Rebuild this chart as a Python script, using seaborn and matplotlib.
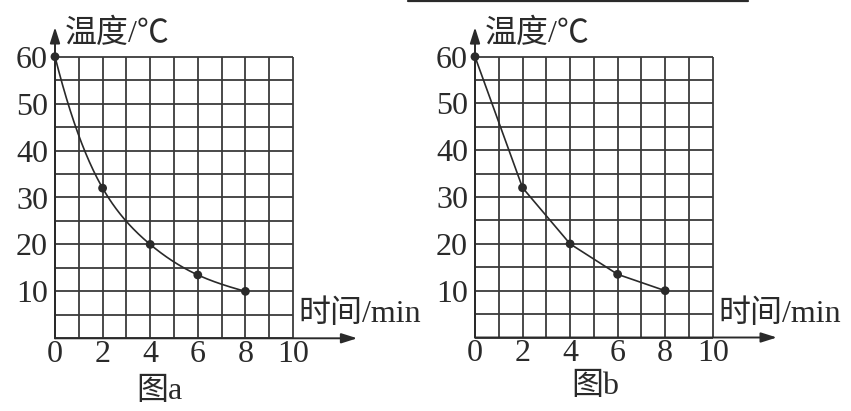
import numpy as np
import pandas as pd
import seaborn as sns
import matplotlib
matplotlib.use("Agg")
import matplotlib.pyplot as plt
from matplotlib.lines import Line2D

# ---- data ----
time_min = [0, 2, 4, 6, 8]
temp_c = [60, 32, 20, 13.5, 10]
x_ticks = [0, 2, 4, 6, 8, 10]
y_ticks = [10, 20, 30, 40, 50, 60]
y_label = "温度/℃"
x_label = "时间/min"
captions = ["图a", "图b"]

sns.set_theme(style="white")
plt.rcParams['font.family'] = ['Liberation Serif', 'Noto Sans CJK SC', 'DejaVu Sans']

W, H = 851, 411
fig = plt.figure(figsize=(W / 100, H / 100), dpi=100)
fig.patch.set_facecolor("white")

INK = "#2a2a2a"
FS = 23


def natural_spline(x, y, xs):
    x = np.asarray(x, float); y = np.asarray(y, float)
    n = len(x)
    h = np.diff(x)
    A = np.zeros((n, n)); b = np.zeros(n)
    A[0, 0] = 1; A[-1, -1] = 1
    for i in range(1, n - 1):
        A[i, i - 1] = h[i - 1]; A[i, i] = 2 * (h[i - 1] + h[i]); A[i, i + 1] = h[i]
        b[i] = 3 * ((y[i + 1] - y[i]) / h[i] - (y[i] - y[i - 1]) / h[i - 1])
    c = np.linalg.solve(A, b)
    out = np.empty_like(xs)
    for k, xv in enumerate(xs):
        i = min(max(np.searchsorted(x, xv) - 1, 0), n - 2)
        bi = (y[i + 1] - y[i]) / h[i] - h[i] * (2 * c[i] + c[i + 1]) / 3
        di = (c[i + 1] - c[i]) / (3 * h[i])
        dx = xv - x[i]
        out[k] = y[i] + bi * dx + c[i] * dx ** 2 + di * dx ** 3
    return out


df = pd.DataFrame({"t": time_min, "T": temp_c})
xs = np.linspace(time_min[0], time_min[-1], 300)
smooth = pd.DataFrame({"t": xs, "T": np.exp(natural_spline(time_min, np.log(temp_c), xs))})

panels = [
    dict(x0=55, x10=293, y60=56.7, y0=338.3, smooth=True, ylab=(65, 34), xlab=(298, 314), cap=(159, 391)),
    dict(x0=475, x10=712.7, y60=56.7, y0=337.5, smooth=False, ylab=(485, 34), xlab=(718, 314), cap=(595, 386)),
]

for p, cap in zip(panels, captions):
    left = p["x0"] / W
    width = (p["x10"] - p["x0"]) / W
    bottom = 1 - p["y0"] / H
    height = (p["y0"] - p["y60"]) / H
    ax = fig.add_axes([left, bottom, width, height])
    ax.set_xlim(0, 10)
    ax.set_ylim(0, 60)
    ax.set_facecolor("none")
    for s in ax.spines.values():
        s.set_visible(False)

    # grid
    ax.vlines(np.arange(0, 11), 0, 60, colors="#3a3a3a", linewidth=1.3, clip_on=False, zorder=1)
    ax.hlines(np.arange(0, 61, 5), 0, 10, colors="#3a3a3a", linewidth=1.3, clip_on=False, zorder=1)

    # axes arrows
    ax.annotate("", xy=(12.7, 0), xytext=(0, 0), annotation_clip=False,
                arrowprops=dict(arrowstyle="-|>,head_length=0.95,head_width=0.3", color=INK,
                                lw=1.4, mutation_scale=10, shrinkA=0, shrinkB=0))
    ax.annotate("", xy=(0, 66.3), xytext=(0, 0), annotation_clip=False,
                arrowprops=dict(arrowstyle="-|>,head_length=0.95,head_width=0.3", color=INK,
                                lw=1.4, mutation_scale=10, shrinkA=0, shrinkB=0))

    # curve
    if p["smooth"]:
        sns.lineplot(data=smooth, x="t", y="T", ax=ax, color=INK, linewidth=1.2, zorder=3, clip_on=False)
    else:
        sns.lineplot(data=df, x="t", y="T", ax=ax, color=INK, linewidth=1.2, zorder=3, clip_on=False)
    sns.scatterplot(data=df, x="t", y="T", ax=ax, color=INK, s=40, edgecolor="none", zorder=4, clip_on=False)

    ax.set_xlabel(""); ax.set_ylabel("")
    ax.set_xticks(x_ticks)
    ax.set_xticklabels([str(v) for v in x_ticks])
    ax.set_yticks(y_ticks)
    ax.set_yticklabels([str(v) for v in y_ticks])
    ax.tick_params(length=0, labelsize=FS, labelcolor=INK)
    ax.tick_params(axis="x", pad=1)
    ax.tick_params(axis="y", pad=5)

    fig.text(p["ylab"][0] / W, 1 - p["ylab"][1] / H, y_label, fontsize=FS, color=INK,
             ha="left", va="center")
    fig.text(p["xlab"][0] / W, 1 - p["xlab"][1] / H, x_label, fontsize=FS, color=INK,
             ha="left", va="center")
    fig.text(p["cap"][0] / W, 1 - p["cap"][1] / H, cap, fontsize=FS, color=INK,
             ha="center", va="center")

# top rule from the surrounding page
fig.add_artist(Line2D([408 / W, 748 / W], [1 - 1.5 / H, 1 - 1.5 / H], color=INK, linewidth=1.6))

fig.savefig("out.png", dpi=100, facecolor="white")
